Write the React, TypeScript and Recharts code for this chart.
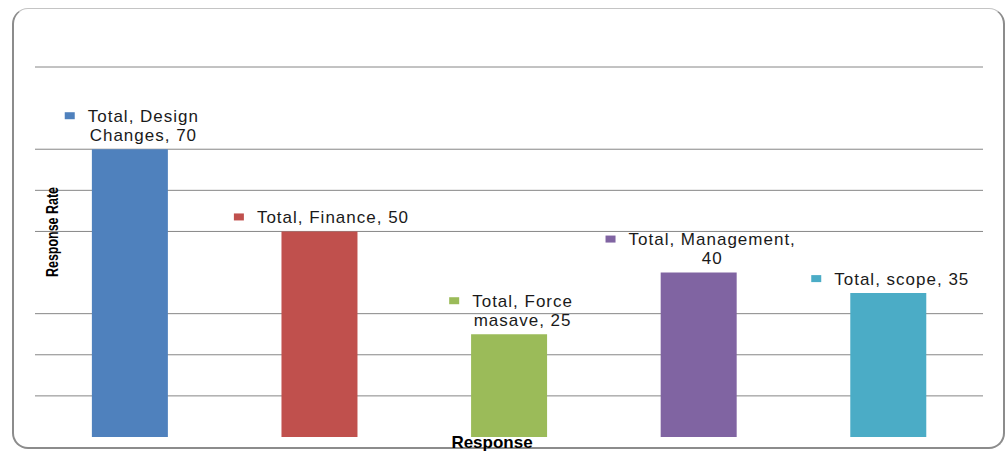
import React from "react"
import { BarChart, Bar, XAxis, YAxis, ReferenceLine, Cell, LabelList } from "recharts"

const categories = ["Design Changes", "Finance", "Force masave", "Management", "scope"]
const values = [70, 50, 25, 40, 35]
const colors = ["#4F81BD", "#C0504D", "#9BBB59", "#8064A2", "#4BACC6"]
// words kept on the first line of each data label
const firstLineWords = [2, 3, 2, 2, 3]
const gridValues = [10, 20, 30, 50, 60, 70, 90]

const data = categories.map((name, i) => ({ name, value: values[i] }))

const LABEL_SIZE = 17
const LABEL_SPACING = 1

let ctx: CanvasRenderingContext2D | null = null
function measure(s: string) {
  if (!ctx) ctx = document.createElement("canvas").getContext("2d")
  if (!ctx) return s.length * 8.4
  ctx.font = `${LABEL_SIZE}px 'Liberation Sans'`
  return ctx.measureText(s).width + s.length * LABEL_SPACING
}

function DataLabel(props: any) {
  const { x, y, width, index } = props
  const words = `Total, ${categories[index]}, ${values[index]}`.split(" ")
  const n = firstLineWords[index]
  const lines = [words.slice(0, n).join(" ")]
  if (n < words.length) lines.push(words.slice(n).join(" "))
  const textW = Math.max(...lines.map(measure))
  const sq = 10
  const gap = 13
  const cx = x + width / 2
  const textCx = cx + (sq + gap) / 2 + 2
  const lineH = 19
  const lastY = y - 14
  const firstY = lastY - (lines.length - 1) * lineH
  return (
    <g>
      <rect
        x={textCx - textW / 2 - gap - sq}
        y={firstY - 4}
        width={sq}
        height={7}
        fill={colors[index]}
      />
      {lines.map((l, i) => (
        <text
          key={i}
          x={textCx}
          y={firstY + i * lineH}
          textAnchor="middle"
          dominantBaseline="central"
          fontFamily="'Liberation Sans'"
          fontSize={LABEL_SIZE}
          letterSpacing={LABEL_SPACING}
          fill="#1a1a1a"
        >
          {l}
        </text>
      ))}
    </g>
  )
}

export default function App() {
  return (
    <div style={{ position: "absolute", left: 0, top: 0, width: 1006, height: 452, background: "#fff" }}>
      <div
        style={{
          position: "absolute",
          left: 12,
          top: 8,
          width: 989,
          height: 438,
          border: "2px solid #8c8c8c",
          borderTop: "1px solid #c4c4c4",
          borderRadius: 16,
        }}
      />
      <BarChart
        width={1006}
        height={452}
        data={data}
        margin={{ top: 67, right: 23, left: 0, bottom: 0 }}
        barCategoryGap="30%"
        style={{ position: "absolute", left: 0, top: 0 }}
      >
        {gridValues.map((v) => (
          <ReferenceLine key={v} y={v} stroke="#868686" strokeWidth={1} zIndex={-100} />
        ))}
        <XAxis
          dataKey="name"
          height={15}
          tick={false}
          axisLine={false}
          tickLine={false}
          label={{
            content: ({ viewBox }: any) => (
              <text
                x={viewBox.x + viewBox.width / 2 - 17}
                y={viewBox.y + 11}
                textAnchor="middle"
                fontFamily="'Liberation Sans'"
                fontWeight="bold"
                fontSize={17}
                fill="#000"
              >
                Response
              </text>
            ),
          }}
        />
        <YAxis
          domain={[0, 90]}
          ticks={gridValues}
          width={35}
          tick={false}
          axisLine={false}
          tickLine={false}
          label={{
            content: ({ viewBox }: any) => {
              const cx = viewBox.x + viewBox.width + 17
              const cy = 232
              return (
                <text
                  x={cx}
                  y={cy}
                  transform={`rotate(-90 ${cx} ${cy})`}
                  textAnchor="middle"
                  dominantBaseline="central"
                  fontFamily="'Liberation Sans'"
                  fontSize={16}
                  fontWeight="bold"
                  textLength={90}
                  lengthAdjust="spacingAndGlyphs"
                  fill="#000"
                >
                  Response Rate
                </text>
              )
            },
          }}
        />
        <Bar dataKey="value" isAnimationActive={false}>
          {data.map((d, i) => (
            <Cell key={d.name} fill={colors[i]} />
          ))}
          <LabelList dataKey="value" content={DataLabel} />
        </Bar>
      </BarChart>
    </div>
  )
}
